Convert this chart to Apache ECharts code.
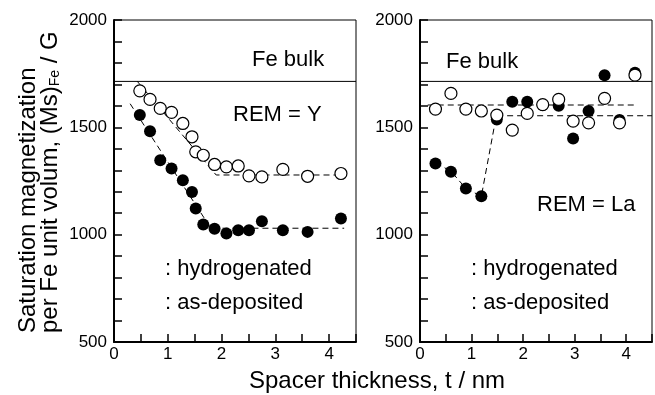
<!DOCTYPE html>
<html>
<head>
<meta charset="utf-8">
<script src="https://cdn.jsdelivr.net/npm/echarts@6.0.0/dist/echarts.min.js"></script>
<style>
  html, body { margin: 0; padding: 0; background: #fff; }
  #main { width: 655px; height: 395px; }
</style>
</head>
<body>
<div id="main"></div>
<script>
// spacer thickness (nm) and saturation magnetization (G)
const leftX = [0.48, 0.67, 0.86, 1.07, 1.28, 1.45, 1.52, 1.66, 1.87, 2.09, 2.31, 2.51, 2.75, 3.14, 3.6, 4.22];
const leftOpen = [1670, 1630, 1588, 1570, 1518, 1456, 1386, 1370, 1327, 1316, 1320, 1274, 1269, 1304, 1272, 1285];
const leftFilled = [1557, 1482, 1347, 1308, 1254, 1199, 1122, 1047, 1028, 1005, 1021, 1021, 1063, 1021, 1013, 1075];

const rightX = [0.3, 0.6, 0.89, 1.19, 1.49, 1.79, 2.08, 2.38, 2.69, 2.97, 3.27, 3.58, 3.87, 4.17];
const rightOpen = [1585, 1658, 1585, 1576, 1557, 1487, 1565, 1606, 1630, 1529, 1521, 1635, 1521, 1743];
const rightFilled = [1332, 1293, 1215, 1179, 1537, 1619, 1619, 1604, 1600, 1448, 1576, 1743, 1534, 1754];

// dashed guide lines
const leftOpenFitX = [0.43, 1.9, 4.28];
const leftOpenFitY = [1715, 1278, 1278];
const leftFilledFitX = [0.3, 1.8, 4.28];
const leftFilledFitY = [1610, 1030, 1030];
const rightOpenFitX = [0.15, 4.2];
const rightOpenFitY = [1604, 1604];
const rightFilledFitX = [0.31, 0.61, 0.89, 1.19, 1.48, 4.5];
const rightFilledFitY = [1335, 1293, 1215, 1179, 1554, 1554];

const feBulkX = [0, 4.5];
const feBulkY = [1714, 1714];

const yLabels = [500, 1000, 1500, 2000];
const xLabels = [0, 1, 2, 3, 4];

const FONT = "'Liberation Sans', Arial, sans-serif";
const zip = (xs, ys) => xs.map((x, i) => [x, ys[i]]);

function xAxisOf(idx) {
  return {
    gridIndex: idx, type: 'value', min: 0, max: 4.5, interval: 0.5,
    axisLine: { onZero: false, lineStyle: { color: '#000', width: 2 } },
    axisTick: { inside: true, length: 8, lineStyle: { color: '#000', width: 1.5 } },
    axisLabel: {
      color: '#000', fontSize: 17, fontFamily: FONT, margin: 4,
      formatter: v => xLabels.includes(v) ? String(v) : ''
    },
    splitLine: { show: false }
  };
}
function yAxisOf(idx) {
  return {
    gridIndex: idx, type: 'value', min: 500, max: 2000, interval: 100,
    axisLine: { onZero: false, lineStyle: { color: '#000', width: 2 } },
    axisTick: { inside: true, length: 8, lineStyle: { color: '#000', width: 1.5 } },
    axisLabel: {
      color: '#000', fontSize: 17, fontFamily: FONT, margin: 7,
      formatter: v => yLabels.includes(v) ? String(v) : ''
    },
    splitLine: { show: false }
  };
}
function dashed(idx, xs, ys) {
  return {
    type: 'line', xAxisIndex: idx, yAxisIndex: idx, data: zip(xs, ys),
    symbol: 'none', lineStyle: { color: '#000', width: 1, type: [6, 4] }, z: 2, silent: true
  };
}
function solid(idx, xs, ys) {
  return {
    type: 'line', xAxisIndex: idx, yAxisIndex: idx, data: zip(xs, ys),
    symbol: 'none', lineStyle: { color: '#000', width: 1 }, z: 2, silent: true
  };
}
function dots(idx, xs, ys, open) {
  return {
    type: 'scatter', xAxisIndex: idx, yAxisIndex: idx, data: zip(xs, ys),
    symbol: 'circle', symbolSize: 12,
    itemStyle: open
      ? { color: '#fff', borderColor: '#000', borderWidth: 1.2, opacity: 1 }
      : { color: '#000', opacity: 1 },
    z: open ? 4 : 3
  };
}
function label(x, y, text, size) {
  return {
    type: 'text', x: x, y: y,
    style: {
      text: text, fontSize: size, fontFamily: FONT, fill: '#000',
      align: 'left', textAlign: 'left', verticalAlign: 'middle', textVerticalAlign: 'middle'
    }
  };
}

const chart = echarts.init(document.getElementById('main'));
chart.setOption({
  animation: false,
  backgroundColor: '#fff',
  grid: [
    { left: 114, top: 20, width: 242, height: 322, show: true, borderColor: '#000', borderWidth: 1 },
    { left: 420, top: 20, width: 243, height: 322, show: true, borderColor: '#000', borderWidth: 1 }
  ],
  xAxis: [xAxisOf(0), xAxisOf(1)],
  yAxis: [yAxisOf(0), yAxisOf(1)],
  series: [
    solid(0, feBulkX, feBulkY),
    solid(1, feBulkX, feBulkY),
    dashed(0, leftOpenFitX, leftOpenFitY),
    dashed(0, leftFilledFitX, leftFilledFitY),
    dashed(1, rightOpenFitX, rightOpenFitY),
    dashed(1, rightFilledFitX, rightFilledFitY),
    dots(0, leftX, leftFilled, false),
    dots(0, leftX, leftOpen, true),
    dots(1, rightX, rightFilled, false),
    dots(1, rightX, rightOpen, true)
  ],
  graphic: [
    label(252, 60, 'Fe bulk', 22),
    label(233, 115, 'REM = Y', 22),
    label(165, 269, ': hydrogenated', 22),
    label(165, 303, ': as-deposited', 22),
    label(446, 62, 'Fe bulk', 22),
    label(537, 205, 'REM = La', 22),
    label(471, 269, ': hydrogenated', 22),
    label(471, 303, ': as-deposited', 22),
    {
      type: 'text', x: 377, y: 381,
      style: {
        text: 'Spacer thickness, t / nm', fontSize: 24, fontFamily: FONT, fill: '#000',
        align: 'center', textAlign: 'center', verticalAlign: 'middle', textVerticalAlign: 'middle'
      }
    },
    {
      type: 'text', x: 28, y: 333, rotation: Math.PI / 2,
      style: {
        text: 'Saturation magnetization', fontSize: 24, fontFamily: FONT, fill: '#000',
        align: 'left', textAlign: 'left', verticalAlign: 'middle', textVerticalAlign: 'middle'
      }
    },
    {
      type: 'text', x: 50, y: 333, rotation: Math.PI / 2,
      style: {
        text: 'per Fe unit volum, (Ms){sub|Fe} / G', fontSize: 24, fontFamily: FONT, fill: '#000',
        align: 'left', textAlign: 'left', verticalAlign: 'middle', textVerticalAlign: 'middle',
        rich: { sub: { fontSize: 14, fontFamily: FONT, fill: '#000', padding: [10, 0, 0, 0] } }
      }
    }
  ]
});
</script>
</body>
</html>
